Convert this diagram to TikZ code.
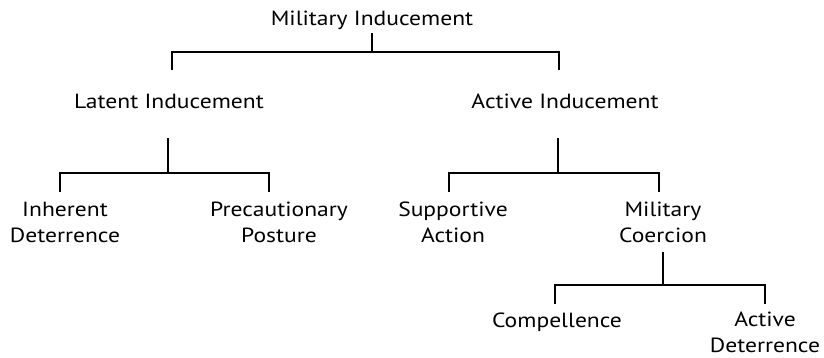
\documentclass[tikz,border=0pt]{standalone}
\usepackage{fontspec}
\setmainfont{PT Sans}[FakeStretch=1.15]
\begin{document}
\begin{tikzpicture}[x=1pt,y=-1pt,
  lbl/.style={font=\fontsize{20.5}{26}\selectfont, align=center, inner sep=0pt},
  one/.style={lbl, anchor=base},
  two/.style={lbl, anchor=center},
  link/.style={line width=1.7pt, line cap=butt}]
\useasboundingbox (0,0) rectangle (824,357);

% labels
\node[one] (mi) at (372,25) {Military Inducement};
\node[one] (li) at (169,108) {Latent Inducement};
\node[one] (ai) at (565,108) {Active Inducement};
\node[two] (ih) at (65,222.6) {Inherent\\Deterrence};
\node[two] (pp) at (279,222.6) {Precautionary\\Posture};
\node[two] (sa) at (453,222.6) {Supportive\\Action};
\node[two] (mc) at (663,222.6) {Military\\Coercion};
\node[one] (cp) at (557,327) {Compellence};
\node[two] (ad) at (765,332.8) {Active\\Deterrence};

% junction points of the tree
\coordinate (mi-top)  at (372,33);
\coordinate (mi-fork) at (372,52);
\coordinate (li-end)  at (172,70);
\coordinate (ai-end)  at (559,70);

\coordinate (li-top)  at (168,138);
\coordinate (li-fork) at (168,173);
\coordinate (ih-end)  at (60,192);
\coordinate (pp-end)  at (269,192);

\coordinate (ai-top)  at (558,138);
\coordinate (ai-fork) at (558,173);
\coordinate (sa-end)  at (449,192);
\coordinate (mc-end)  at (659,192);

\coordinate (mc-top)  at (663,252);
\coordinate (mc-fork) at (663,285);
\coordinate (cp-end)  at (555,304);
\coordinate (ad-end)  at (765,304);

% connectors
\draw[link] (mi-top) -- (mi-fork);
\draw[link] (li-end) |- (mi-fork) -| (ai-end);

\draw[link] (li-top) -- (li-fork);
\draw[link] (ih-end) |- (li-fork) -| (pp-end);

\draw[link] (ai-top) -- (ai-fork);
\draw[link] (sa-end) |- (ai-fork) -| (mc-end);

\draw[link] (mc-top) -- (mc-fork);
\draw[link] (cp-end) |- (mc-fork) -| (ad-end);
\end{tikzpicture}
\end{document}
